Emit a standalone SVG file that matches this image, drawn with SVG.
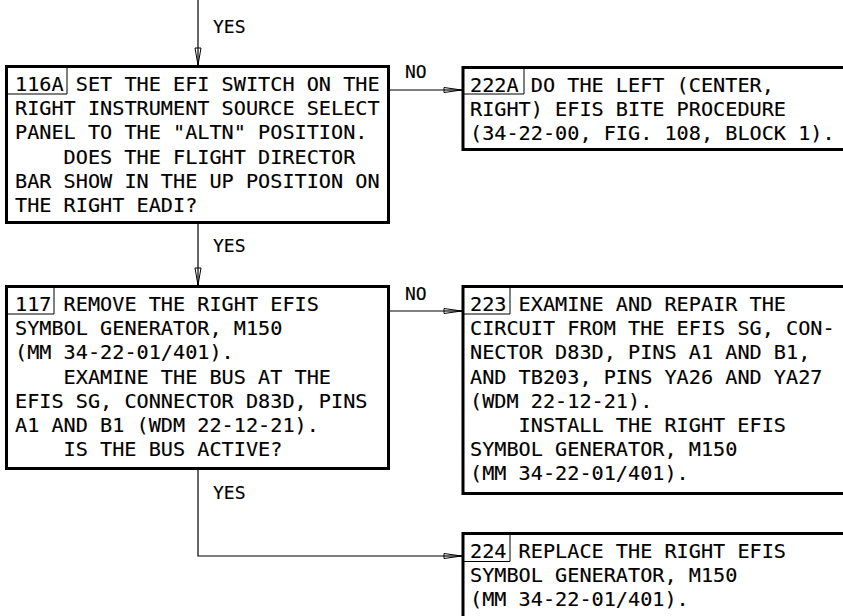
<svg xmlns="http://www.w3.org/2000/svg" width="843" height="616" viewBox="0 0 843 616">
<style>
.box{fill:#fff;stroke:#000;stroke-width:3}
.num{fill:none;stroke:#000;stroke-width:1}
.t{font-family:"DejaVu Sans Mono",monospace;font-size:20.2px;fill:#000;stroke:#000;stroke-width:0.15}
.lbl{font-family:"DejaVu Sans Mono",monospace;font-size:18px;fill:#000;stroke:#000;stroke-width:0.15}
.ln{fill:none;stroke:#000;stroke-width:1.2}
.ah{fill:#fff;stroke:#000;stroke-width:1}
</style>
<rect width="843" height="616" fill="#fff"/>
<g id="connectors">
  <line class="ln" x1="198" y1="0" x2="198" y2="65"/>
  <polygon class="ah" points="195,48 201,48 198,65"/>
  <line class="ln" x1="198" y1="48" x2="198" y2="65"/>
  <text class="lbl" x="213" y="33">YES</text>

  <line class="ln" x1="390" y1="90" x2="462" y2="90"/>
  <polygon class="ah" points="444,87.5 444,92.5 461.5,90"/>
  <line class="ln" x1="444" y1="90" x2="462" y2="90"/>
  <text class="lbl" x="405" y="78">NO</text>

  <line class="ln" x1="198" y1="224" x2="198" y2="285"/>
  <polygon class="ah" points="195,268 201,268 198,285"/>
  <line class="ln" x1="198" y1="268" x2="198" y2="285"/>
  <text class="lbl" x="213" y="252">YES</text>

  <line class="ln" x1="390" y1="311" x2="462" y2="311"/>
  <polygon class="ah" points="444,308.5 444,313.5 461.5,311"/>
  <line class="ln" x1="444" y1="311" x2="462" y2="311"/>
  <text class="lbl" x="405" y="300">NO</text>

  <polyline class="ln" points="198,470 198,556 462,556"/>
  <polygon class="ah" points="444,553.5 444,558.5 461.5,556"/>
  <line class="ln" x1="444" y1="556" x2="462" y2="556"/>
  <text class="lbl" x="213" y="499">YES</text>
</g>
<g id="n116A">
  <rect class="box" x="6.5" y="66.5" width="382" height="156"/>
  <polyline class="num" points="6.5,94 67,94 67,66.5"/>
  <text class="t" x="15" y="91">116A SET THE EFI SWITCH ON THE</text>
  <text class="t" x="15" y="115.2">RIGHT INSTRUMENT SOURCE SELECT</text>
  <text class="t" x="15" y="139.4">PANEL TO THE "ALTN" POSITION.</text>
  <text class="t" x="63.6" y="163.6">DOES THE FLIGHT DIRECTOR</text>
  <text class="t" x="15" y="187.8">BAR SHOW IN THE UP POSITION ON</text>
  <text class="t" x="15" y="212">THE RIGHT EADI?</text>
</g>
<g id="n222A">
  <rect class="box" x="463" y="67.5" width="400" height="82"/>
  <polyline class="num" points="463,94 524,94 524,67.5"/>
  <text class="t" x="470" y="91.5">222A DO THE LEFT (CENTER,</text>
  <text class="t" x="470" y="115.7">RIGHT) EFIS BITE PROCEDURE</text>
  <text class="t" x="470" y="139.9">(34-22-00, FIG. 108, BLOCK 1).</text>
</g>
<g id="n117">
  <rect class="box" x="6.5" y="286.5" width="382" height="182"/>
  <polyline class="num" points="6.5,314 54,314 54,286.5"/>
  <text class="t" x="15" y="311">117 REMOVE THE RIGHT EFIS</text>
  <text class="t" x="15" y="335.2">SYMBOL GENERATOR, M150</text>
  <text class="t" x="15" y="359.4">(MM 34-22-01/401).</text>
  <text class="t" x="63.6" y="383.6">EXAMINE THE BUS AT THE</text>
  <text class="t" x="15" y="407.8">EFIS SG, CONNECTOR D83D, PINS</text>
  <text class="t" x="15" y="432">A1 AND B1 (WDM 22-12-21).</text>
  <text class="t" x="63.6" y="456.2">IS THE BUS ACTIVE?</text>
</g>
<g id="n223">
  <rect class="box" x="463" y="286.5" width="400" height="207"/>
  <polyline class="num" points="463,314 510,314 510,286.5"/>
  <text class="t" x="470" y="311">223 EXAMINE AND REPAIR THE</text>
  <text class="t" x="470" y="335.2">CIRCUIT FROM THE EFIS SG, CON-</text>
  <text class="t" x="470" y="359.4">NECTOR D83D, PINS A1 AND B1,</text>
  <text class="t" x="470" y="383.6">AND TB203, PINS YA26 AND YA27</text>
  <text class="t" x="470" y="407.8">(WDM 22-12-21).</text>
  <text class="t" x="518.6" y="432">INSTALL THE RIGHT EFIS</text>
  <text class="t" x="470" y="456.2">SYMBOL GENERATOR, M150</text>
  <text class="t" x="470" y="480.4">(MM 34-22-01/401).</text>
</g>
<g id="n224">
  <rect class="box" x="463" y="533.5" width="400" height="120"/>
  <polyline class="num" points="463,561.5 510,561.5 510,533.5"/>
  <text class="t" x="470" y="558">224 REPLACE THE RIGHT EFIS</text>
  <text class="t" x="470" y="582.2">SYMBOL GENERATOR, M150</text>
  <text class="t" x="470" y="606.4">(MM 34-22-01/401).</text>
</g>
</svg>
